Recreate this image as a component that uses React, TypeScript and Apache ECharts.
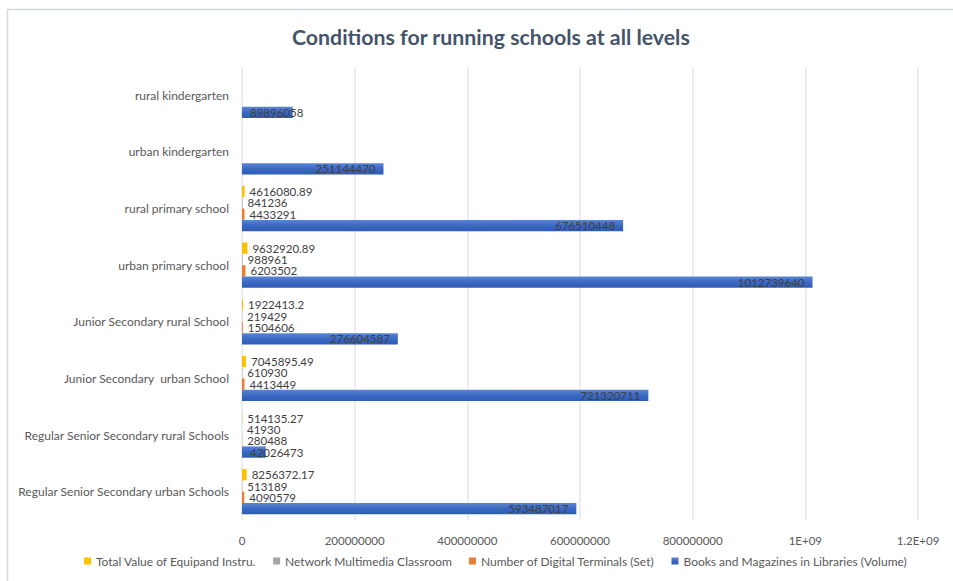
import React, { useEffect, useRef } from "react";
import * as echarts from "echarts";

const categories = [
  "Regular Senior Secondary urban Schools",
  "Regular Senior Secondary rural Schools",
  "Junior Secondary  urban School",
  "Junior Secondary rural School",
  "urban primary school",
  "rural primary school",
  "urban kindergarten",
  "rural kindergarten",
];

const booksVolume = [593487017, 42026473, 721320711, 276604587, 1012739640, 676510448, 251144470, 89896058];
const digitalTerminals = [4090579, 280488, 4413449, 1504606, 6203502, 4433291, null, null];
const multimediaClassrooms = [513189, 41930, 610930, 219429, 988961, 841236, null, null];
const equipmentValue = [8256372.17, 514135.27, 7045895.49, 1922413.2, 9632920.89, 4616080.89, null, null];

const xTickLabels = ["0", "200000000", "400000000", "600000000", "800000000", "1E+09", "1.2E+09"];

const seriesNames = [
  "Total Value of Equipand Instru.",
  "Network Multimedia Classroom",
  "Number of Digital Terminals (Set)",
  "Books and Magazines in Libraries (Volume)",
];

const FONT = "Lato, 'Open Sans', sans-serif";

export default function App() {
  const ref = useRef<HTMLDivElement>(null);
  useEffect(() => {
    if (!ref.current) return;
    const chart = echarts.init(ref.current, null, { renderer: "svg" });
    const smallLabel = {
      show: true,
      position: "right",
      distance: 5,
      color: "#404040",
      fontSize: 11.5,
      fontFamily: FONT,
    };
    const blueData = booksVolume.map((v) => ({
      value: v,
      label: {
        position: v < 150000000 ? "insideLeft" : "insideRight",
        distance: 8,
      },
    }));
    chart.setOption({
      animation: false,
      backgroundColor: "#ffffff",
      title: {
        text: "Conditions for running schools at all levels",
        left: 287,
        top: 21,
        textStyle: { fontSize: 21.3, fontWeight: "bold", color: "#44546a", fontFamily: FONT },
      },
      graphic: [
        {
          type: "rect",
          shape: { x: 7.5, y: 9.5, width: 1000, height: 700 },
          style: { fill: "none", stroke: "#d4d8de", lineWidth: 1.5 },
          silent: true,
        },
      ],
      legend: {
        data: seriesNames,
        bottom: 9,
        left: 79,
        icon: "rect",
        itemWidth: 7,
        itemHeight: 7,
        itemGap: 17,
        textStyle: { color: "#595959", fontSize: 12, fontFamily: FONT },
      },
      grid: { left: 242, right: 35, top: 67, bottom: 61, containLabel: false },
      xAxis: {
        type: "value",
        min: 0,
        max: 1200000000,
        interval: 200000000,
        axisLine: { show: false },
        axisTick: { show: false },
        splitLine: { show: true, lineStyle: { color: "#e3e7ed", width: 1.5 } },
        axisLabel: {
          color: "#595959",
          fontSize: 11.5,
          fontFamily: FONT,
          margin: 14,
          formatter: (v: number) => xTickLabels[Math.round(v / 200000000)] ?? String(v),
        },
      },
      yAxis: {
        type: "category",
        data: categories,
        axisLine: { show: false },
        axisTick: { show: false },
        axisLabel: { color: "#595959", fontSize: 12, fontFamily: FONT, margin: 13 },
      },
      series: [
        {
          name: seriesNames[0],
          type: "bar",
          data: equipmentValue,
          barGap: "0%",
          barCategoryGap: "20%",
          itemStyle: { color: "#ffc000" },
          label: smallLabel,
        },
        {
          name: seriesNames[1],
          type: "bar",
          data: multimediaClassrooms,
          barGap: "0%",
          barCategoryGap: "20%",
          itemStyle: { color: "#a5a5a5" },
          label: smallLabel,
        },
        {
          name: seriesNames[2],
          type: "bar",
          data: digitalTerminals,
          barGap: "0%",
          barCategoryGap: "20%",
          itemStyle: { color: "#ed7d31" },
          label: smallLabel,
        },
        {
          name: seriesNames[3],
          type: "bar",
          data: blueData,
          barGap: "0%",
          barCategoryGap: "20%",
          itemStyle: {
            color: new echarts.graphic.LinearGradient(0, 0, 0, 1, [
              { offset: 0, color: "#5a86d2" },
              { offset: 0.5, color: "#3a68c2" },
              { offset: 1, color: "#2d5bb5" },
            ]),
          },
          label: { ...smallLabel, position: "insideRight", distance: 8 },
        },
      ],
    });
    return () => chart.dispose();
  }, []);
  return (
    <div
      ref={ref}
      style={{ position: "absolute", left: 0, top: 0, width: 953, height: 581 }}
    />
  );
}
